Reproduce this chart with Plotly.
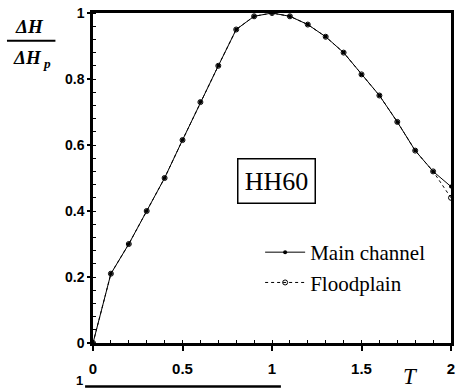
import plotly.graph_objects as go

T = [0.0, 0.1, 0.2, 0.3, 0.4, 0.5, 0.6, 0.7, 0.8, 0.9, 1.0,
     1.1, 1.2, 1.3, 1.4, 1.5, 1.6, 1.7, 1.8, 1.9, 2.0]
main_channel = [0.0, 0.21, 0.30, 0.40, 0.50, 0.615, 0.73, 0.84, 0.95, 0.99, 1.0,
                0.99, 0.965, 0.928, 0.88, 0.814, 0.75, 0.67, 0.583, 0.52, 0.474]
floodplain = [0.0, 0.21, 0.30, 0.40, 0.50, 0.615, 0.73, 0.84, 0.95, 0.99, 1.0,
              0.99, 0.965, 0.928, 0.88, 0.814, 0.75, 0.67, 0.583, 0.52, 0.44]
x_ticks = [0, 0.5, 1, 1.5, 2]
x_labels = ["0", "0.5", "1", "1.5", "2"]
y_ticks = [0, 0.2, 0.4, 0.6, 0.8, 1]
y_labels = ["0", "0.2", "0.4", "0.6", "0.8", "1"]

serif = "Liberation Serif"
sans = "Liberation Sans"

W, H = 460, 390
L, R, TOP, B = 93, 5, 10, 47
pw, ph = W - L - R, H - TOP - B


def px(xp):
    return (xp - L) / pw


def py(yp):
    return (H - B - yp) / ph


fig = go.Figure()
fig.add_trace(go.Scatter(
    x=T, y=main_channel, name="Main channel", mode="lines+markers",
    line=dict(color="black", width=1),
    marker=dict(symbol="circle", size=4, color="black"),
    cliponaxis=False, legendgroup="a"))
fig.add_trace(go.Scatter(
    x=T, y=floodplain, name="Floodplain", mode="lines+markers",
    line=dict(color="black", width=1, dash="dot"),
    marker=dict(symbol="circle-open", size=5, color="black", line=dict(width=1)),
    cliponaxis=False, legendgroup="b"))

fig.update_layout(
    width=W, height=H,
    margin=dict(l=L, r=R, t=TOP, b=B),
    paper_bgcolor="white", plot_bgcolor="white",
    showlegend=True,
    legend=dict(x=px(262), y=py(231), xanchor="left", yanchor="top",
                font=dict(family=serif, size=21, color="black"),
                bgcolor="rgba(0,0,0,0)", traceorder="grouped",
                tracegroupgap=0, itemwidth=40),
    xaxis=dict(range=[0, 2], tickvals=x_ticks, ticktext=x_labels,
               showgrid=False, zeroline=False,
               showline=True, linecolor="black", linewidth=2.5, mirror=True,
               ticks="outside", ticklen=5, tickwidth=2, tickcolor="black",
               ticklabelstandoff=5,
               minor=dict(ticks="inside", ticklen=3, tickwidth=1,
                          tickcolor="black", dtick=0.1),
               tickfont=dict(family=sans, size=15, color="black", weight="bold")),
    yaxis=dict(range=[0, 1], tickvals=y_ticks, ticktext=y_labels,
               showgrid=False, zeroline=False,
               showline=True, linecolor="black", linewidth=2.5, mirror=True,
               ticks="outside", ticklen=3, tickwidth=2, tickcolor="black",
               minor=dict(ticks="inside", ticklen=3, tickwidth=1,
                          tickcolor="black", dtick=0.04),
               tickfont=dict(family=sans, size=14, color="black", weight="bold")),
)

# HH60 box
fig.add_annotation(x=px(279), y=py(180), xref="paper", yref="paper", text="HH60",
                   xanchor="center", yanchor="middle",
                   showarrow=False, font=dict(family=serif, size=26, color="black"),
                   bordercolor="black", borderwidth=1.5, borderpad=1,
                   width=74, height=41, bgcolor="white")

# Axis titles
fig.add_annotation(x=px(29), y=py(24), xref="paper", yref="paper",
                   xanchor="center", yanchor="middle",
                   text="<b><i>ΔH</i></b>", showarrow=False,
                   font=dict(family=serif, size=19, color="black"))
fig.add_annotation(x=px(31), y=py(56), xref="paper", yref="paper",
                   xanchor="center", yanchor="middle",
                   text="<b><i>ΔH<sub> p</sub></i></b>", showarrow=False,
                   font=dict(family=serif, size=19, color="black"))
fig.add_annotation(x=px(414), y=py(377), xref="paper", yref="paper",
                   xanchor="center", yanchor="middle",
                   text="<i>T</i>", showarrow=False,
                   font=dict(family=serif, size=23, color="black"))
fig.add_annotation(x=px(79), y=py(381), xref="paper", yref="paper",
                   xanchor="center", yanchor="middle",
                   text="<b>1</b>", showarrow=False,
                   font=dict(family=sans, size=13, color="black"))

fig.add_shape(type="line", xref="paper", yref="paper",
              x0=px(6), x1=px(55), y0=py(38), y1=py(38),
              line=dict(color="black", width=2))
fig.add_shape(type="line", xref="paper", yref="paper",
              x0=px(85), x1=px(283), y0=py(387), y1=py(387),
              line=dict(color="black", width=2.5))

fig.write_html("out.html")
